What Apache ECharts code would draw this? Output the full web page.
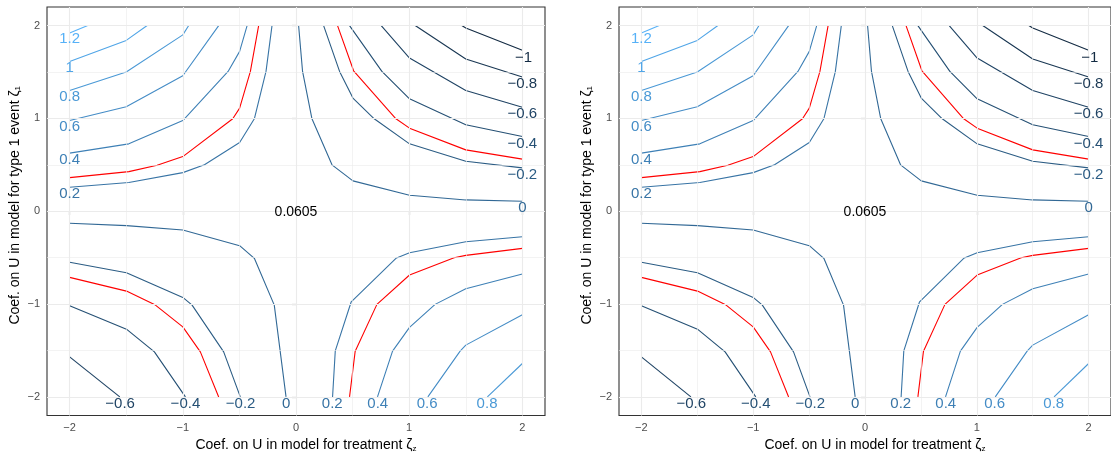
<!DOCTYPE html>
<html><head><meta charset="utf-8">
<script src="https://cdn.jsdelivr.net/npm/echarts@6/dist/echarts.min.js"></script>
<style>html,body{margin:0;padding:0;background:#fff}#c{width:1111px;height:458px}</style>
</head><body><div id="c"></div>
<script>
// ---- axis ticks ----
const majorTicks = [-2, -1, 0, 1, 2];
const minorTicks = [-1.5, -0.5, 0.5, 1.5];
const tickLabels = ['−2', '−1', '0', '1', '2'];

// ---- contour lines (x = ζz, y = ζ1) ----
const lvl12a = [[-2, 1.92], [-1.84, 2.0]];
const lvl10a = [[-2, 1.614], [-1.5, 1.84], [-1.315, 2.0]];
const lvl08a = [[-2, 1.30], [-1.5, 1.50], [-1.0, 1.90], [-0.948, 2.0]];
const lvl06a = [[-2, 0.977], [-1.5, 1.125], [-1.0, 1.46], [-0.683, 2.0]];
const lvl04a = [[-2, 0.626], [-1.477, 0.726], [-1.0, 0.977], [-0.6, 1.506], [-0.498, 1.722], [-0.432, 2.0]];
const redA   = [[-2, 0.362], [-1.477, 0.427], [-1.227, 0.496], [-1.0, 0.589], [-0.559, 0.996], [-0.498, 1.111], [-0.403, 1.506], [-0.33, 2.0]];
const lvl02a = [[-2, 0.259], [-1.477, 0.309], [-1.0, 0.416], [-0.809, 0.5], [-0.498, 0.74], [-0.368, 0.996], [-0.265, 1.506], [-0.212, 2.0]];

const lvl00a  = [[0.023, 2.0], [0.058, 1.506], [0.141, 0.996], [0.318, 0.5], [0.503, 0.327], [1.003, 0.173], [1.5, 0.122], [2.0, 0.108]];
const lvlm02a = [[0.244, 2.0], [0.385, 1.506], [0.503, 1.219], [0.691, 0.996], [1.003, 0.726], [1.5, 0.539], [2.0, 0.467]];
const redB    = [[0.367, 2.0], [0.509, 1.513], [0.883, 0.996], [1.003, 0.895], [1.5, 0.661], [2.0, 0.561]];
const lvlm04a = [[0.473, 2.0], [0.759, 1.506], [1.003, 1.211], [1.5, 0.931], [2.0, 0.805]];
const lvlm06a = [[0.753, 2.0], [1.003, 1.65], [1.5, 1.30], [2.0, 1.12]];
const lvlm08a = [[1.053, 2.0], [1.5, 1.64], [2.0, 1.445]];
const lvlm10a = [[1.465, 2.0], [1.5, 1.974], [2.0, 1.733]];

const lvl00b  = [[-2, -0.129], [-1.498, -0.155], [-1.0, -0.202], [-0.498, -0.371], [-0.368, -0.507], [-0.192, -1.011], [-0.088, -2.0]];
const lvlm02b = [[-2, -0.55], [-1.498, -0.662], [-1.0, -0.928], [-0.918, -1.011], [-0.639, -1.515], [-0.492, -2.0]];
const redC    = [[-2, -0.712], [-1.498, -0.86], [-1.242, -1.011], [-1.0, -1.245], [-0.845, -1.515], [-0.683, -2.0]];
const lvlm04b = [[-2, -1.018], [-1.498, -1.27], [-1.251, -1.515], [-0.977, -2.0]];
const lvlm06b = [[-2, -1.568], [-1.557, -2.0]];

const lvl02b = [[0.323, -2.0], [0.347, -1.504], [0.488, -0.975], [0.883, -0.507], [1.003, -0.447], [1.5, -0.328], [2.0, -0.274]];
const redD   = [[0.473, -2.0], [0.523, -1.507], [0.715, -1.003], [1.003, -0.687], [1.397, -0.5], [1.5, -0.475], [2.0, -0.40]];
const lvl04b = [[0.72, -2.0], [0.853, -1.507], [1.003, -1.251], [1.229, -1.003], [1.5, -0.835], [2.0, -0.676]];
const lvl06b = [[1.165, -2.0], [1.45, -1.507], [1.5, -1.442], [2.0, -1.115]];
const lvl08b = [[1.691, -2.0], [2.0, -1.64]];

// line list: [points, level, red?]
const contourLines = [
  [lvl12a, 1.2, false], [lvl10a, 1.0, false], [lvl08a, 0.8, false], [lvl06a, 0.6, false],
  [lvl04a, 0.4, false], [redA, 0.3, true], [lvl02a, 0.2, false],
  [lvl00a, 0, false], [lvlm02a, -0.2, false], [redB, -0.3, true], [lvlm04a, -0.4, false],
  [lvlm06a, -0.6, false], [lvlm08a, -0.8, false], [lvlm10a, -1.0, false],
  [lvl00b, 0, false], [lvlm02b, -0.2, false], [redC, -0.3, true], [lvlm04b, -0.4, false], [lvlm06b, -0.6, false],
  [lvl02b, 0.2, false], [redD, 0.3, true], [lvl04b, 0.4, false], [lvl06b, 0.6, false], [lvl08b, 0.8, false]
];

// ---- contour labels ----
const labelText  = ['1.2', '1', '0.8', '0.6', '0.4', '0.2',
                    '−1', '−0.8', '−0.6', '−0.4', '−0.2', '0',
                    '−0.6', '−0.4', '−0.2', '0',
                    '0.2', '0.4', '0.6', '0.8'];
const labelLevel = [1.2, 1.0, 0.8, 0.6, 0.4, 0.2,
                    -1, -0.8, -0.6, -0.4, -0.2, 0,
                    -0.6, -0.4, -0.2, 0,
                    0.2, 0.4, 0.6, 0.8];
const labelX = [-2, -2, -2, -2, -2, -2,
                2.01, 2, 2, 2, 2, 2,
                -1.554, -0.977, -0.489, -0.087,
                0.32, 0.722, 1.159, 1.688];
const labelY = [1.861, 1.543, 1.233, 0.909, 0.553, 0.192,
                1.654, 1.37, 1.05, 0.723, 0.395, 0.032,
                -2.08, -2.08, -2.08, -2.08,
                -2.078, -2.078, -2.078, -2.078];
const centerLabel = '0.0605';
const centerPos = [0, -0.013];

// ---- colours ----
const lowCol = [19, 43, 67], highCol = [86, 177, 247];
const levelMin = -1, levelMax = 1.2;
function levelColor(v) {
  const t = (v - levelMin) / (levelMax - levelMin);
  const c = lowCol.map((a, i) => Math.round(a + (highCol[i] - a) * t));
  return 'rgb(' + c.join(',') + ')';
}

const FONT = '"Liberation Sans", Arial, Helvetica, sans-serif';
const gridLeft = [47, 619];

const grids = [], xAxes = [], yAxes = [], series = [];
for (let p = 0; p < 2; p++) {
  grids.push({left: gridLeft[p], top: 7, width: 498, height: 408.5, show: true,
              borderColor: '#333333', borderWidth: 1.1, backgroundColor: 'transparent', containLabel: false});
  const tickFmt = v => tickLabels[majorTicks.indexOf(v)] ?? '';
  xAxes.push({type: 'value', gridIndex: p, min: -2.2, max: 2.2,
    axisLine: {show: false}, splitLine: {show: false},
    axisTick: {show: true, customValues: majorTicks, length: 4, lineStyle: {color: '#333333', width: 1.1}},
    axisLabel: {customValues: majorTicks, formatter: tickFmt, color: '#4D4D4D', fontSize: 11, margin: 7, fontFamily: FONT},
    name: '{t|Coef. on U in model for treatment ζ}{s|z}', nameLocation: 'middle', nameGap: 20,
    nameTextStyle: {padding: [0, 0, 0, 20], rich: {
      t: {fontSize: 14, color: '#000', fontFamily: FONT},
      s: {fontSize: 8, color: '#000', fontFamily: FONT, verticalAlign: 'bottom', padding: [6, 0, 0, 0]}}}
  });
  yAxes.push({type: 'value', gridIndex: p, min: -2.2, max: 2.2,
    axisLine: {show: false}, splitLine: {show: false},
    axisTick: {show: true, customValues: majorTicks, length: 4, lineStyle: {color: '#333333', width: 1.1}},
    axisLabel: {customValues: majorTicks, formatter: tickFmt, color: '#4D4D4D', fontSize: 11, margin: 7, fontFamily: FONT},
    name: '{t|Coef. on U in model for type 1 event ζ}{s|1}', nameLocation: 'middle', nameGap: 25,
    nameTextStyle: {padding: [0, 0, 0, 12], rich: {
      t: {fontSize: 14, color: '#000', fontFamily: FONT},
      s: {fontSize: 8, color: '#000', fontFamily: FONT, verticalAlign: 'bottom', padding: [6, 0, 0, 0]}}}
  });
  // background grid lines
  const gl = (vals, w) => vals.flatMap(v => [{xAxis: v, lineStyle: {width: w}}, {yAxis: v, lineStyle: {width: w}}]);
  series.push({type: 'line', xAxisIndex: p, yAxisIndex: p, data: [], silent: true, z: 1,
    markLine: {silent: true, symbol: ['none', 'none'], label: {show: false}, animation: false,
      lineStyle: {color: '#EBEBEB', type: 'solid'},
      data: gl(minorTicks, 0.6).concat(gl(majorTicks, 1.1))}});
  for (const [pts, lv, red] of contourLines) {
    series.push({type: 'line', xAxisIndex: p, yAxisIndex: p, data: pts, showSymbol: false, symbol: 'none',
      silent: true, z: 3, animation: false,
      lineStyle: {color: red ? '#FF0000' : levelColor(lv), width: 1.1}});
  }
  const labelData = labelText.map((t, i) => ({value: [labelX[i], labelY[i]], name: t,
    label: {color: levelColor(labelLevel[i])}}));
  labelData.push({value: centerPos, name: centerLabel, label: {color: '#000', fontSize: 14}});
  series.push({type: 'scatter', xAxisIndex: p, yAxisIndex: p, data: labelData, symbolSize: 0, z: 5,
    silent: true, animation: false, itemStyle: {opacity: 1},
    label: {show: true, position: 'inside', formatter: d => d.name, fontSize: 15, fontFamily: FONT, opacity: 1,
            textBorderWidth: 0, textBorderColor: 'transparent', textShadowBlur: 0}});
}

const chart = echarts.init(document.getElementById('c'), null, {renderer: 'canvas'});
chart.setOption({backgroundColor: '#fff', animation: false, grid: grids, xAxis: xAxes, yAxis: yAxes, series});
</script></body></html>
